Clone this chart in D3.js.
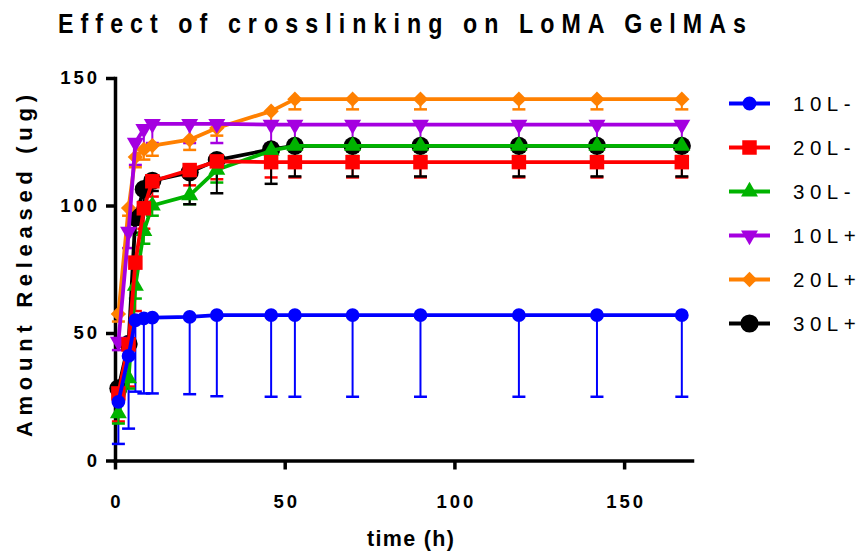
<!DOCTYPE html>
<html>
<head>
<meta charset="utf-8">
<script src="https://cdn.jsdelivr.net/npm/d3@7"></script>
<style>
  html, body { margin: 0; padding: 0; background: #fff; }
  svg { display: block; font-family: "Liberation Sans", Arial, sans-serif; }
</style>
</head>
<body>
<svg id="chart" width="860" height="554"></svg>
<script>
// Release time points (h)
const times = [1, 4, 6, 8.5, 11, 22, 30, 46, 53, 70, 90, 119, 142, 167];

// Mean amount released (ug) per formulation
const v10Lminus = [23, 41, 55, 55.7, 56, 56.3, 57, 57, 57, 57, 57, 57, 57, 57];
const v20Lminus = [26.3, 45.5, 77.6, 98.9, 109.5, 113.9, 117.3, 117, 117, 117, 117, 117, 117, 117];
const v30Lminus = [18.5, 32.2, 68.5, 90, 100, 104, 114, 121.5, 123.4, 123.4, 123.4, 123.4, 123.4, 123.4];
const v10Lplus  = [46.6, 89.7, 124.6, 130, 132, 132, 132, 131.7, 131.7, 131.7, 131.7, 131.7, 131.7, 131.7];
const v20Lplus  = [57.5, 99, 119, 122, 123.5, 125.8, 130.4, 137, 141.7, 141.7, 141.7, 141.7, 141.7, 141.7];
const v30Lplus  = [28.3, 45.7, 95.3, 106.4, 109.7, 113, 117.8, 122, 123.4, 123.4, 123.4, 123.4, 123.4, 123.4];

// Error (SD) shown below each mean
const e10Lminus = [16.5, 28.5, 28, 29.4, 29.7, 30.3, 31.8, 32, 32, 32, 32, 32, 32, 32];
const e20Lminus = [11, 16.5, 19, 8, 6, 6, 7, 6, 6, 6, 6, 6, 6, 6];
const e30Lminus = [4, 4, 5, 5, 4, 3.5, 5, 4, 4, 4, 4, 4, 4, 4];
const e10Lplus  = [3.3, 6.4, 8.7, 8, 7.5, 7.5, 7.5, 7.5, 7.5, 7.5, 7.5, 7.5, 7.5, 7.5];
const e20Lplus  = [3, 3, 4, 4, 4, 4, 3, 4, 4, 4, 4, 4, 4, 4];
const e30Lplus  = [4, 5, 6, 5, 4, 12.5, 13, 13.5, 12, 12, 12, 12, 12, 12];

const seriesNames = ["10L-", "20L-", "30L-", "10L+", "20L+", "30L+"];
const xTicks = [0, 50, 100, 150];
const yTicks = [0, 50, 100, 150];

const title = "Effect of crosslinking on LoMA GelMAs";
const xTitle = "time (h)";
const yTitle = "Amount Released (ug)";

const series = [
  { name: seriesNames[0], values: v10Lminus, errors: e10Lminus, color: "#0000ff", symbol: d3.symbolCircle,   size: 150, rotate: 0 },
  { name: seriesNames[1], values: v20Lminus, errors: e20Lminus, color: "#ff0000", symbol: d3.symbolSquare,   size: 210, rotate: 0 },
  { name: seriesNames[2], values: v30Lminus, errors: e30Lminus, color: "#00b300", symbol: d3.symbolTriangle, size: 125, rotate: 0 },
  { name: seriesNames[3], values: v10Lplus,  errors: e10Lplus,  color: "#a500e0", symbol: d3.symbolTriangle, size: 125, rotate: 180 },
  { name: seriesNames[4], values: v20Lplus,  errors: e20Lplus,  color: "#ff8000", symbol: d3.symbolDiamond2, size: 150, rotate: 0 },
  { name: seriesNames[5], values: v30Lplus,  errors: e30Lplus,  color: "#000000", symbol: d3.symbolCircle,   size: 260, rotate: 0 }
];

const svg = d3.select("#chart");
const x = d3.scaleLinear().domain([0, 170]).range([115, 692]);
const y = d3.scaleLinear().domain([0, 150]).range([460.5, 78]);

// Title: condensed bold glyphs, widely spaced
svg.append("text")
  .attr("transform", "translate(58,33) scale(0.86,1)")
  .attr("x", 0).attr("y", 0)
  .attr("textLength", 800).attr("lengthAdjust", "spacing")
  .style("font-size", "27px").style("font-weight", "bold")
  .text(title);

// Axes
const xAxis = svg.append("g").attr("transform", `translate(0,${y(0)})`)
  .call(d3.axisBottom(x).tickValues(xTicks).tickSize(9).tickSizeOuter(0).tickPadding(25));
const yAxis = svg.append("g").attr("transform", `translate(${x(0)},0)`)
  .call(d3.axisLeft(y).tickValues(yTicks).tickSize(9).tickSizeOuter(0).tickPadding(6));

[xAxis, yAxis].forEach(g => {
  g.select(".domain").attr("stroke", "#000").attr("stroke-width", 3.5).attr("stroke-linecap", "square");
  g.selectAll(".tick line").attr("stroke", "#000").attr("stroke-width", 3.5);
  g.selectAll(".tick text")
    .attr("fill", "#000")
    .style("font-family", "'Liberation Sans', Arial, sans-serif")
    .style("font-size", "18.5px").style("font-weight", "bold")
    .style("letter-spacing", "3px");
});
xAxis.selectAll(".tick text").attr("dx", "1.5px");

// Axis titles
svg.append("text")
  .attr("x", 367).attr("y", 546)
  .attr("textLength", 87).attr("lengthAdjust", "spacing")
  .style("font-size", "21.5px").style("font-weight", "bold")
  .text(xTitle);

svg.append("text")
  .attr("transform", "translate(32,437) rotate(-90)")
  .attr("x", 0).attr("y", 0)
  .attr("textLength", 342).attr("lengthAdjust", "spacing")
  .style("font-size", "22px").style("font-weight", "bold")
  .text(yTitle);

const plot = svg.append("g");

// Error bars (below the mean only)
series.forEach(s => {
  const g = plot.append("g");
  times.forEach((t, i) => {
    const cx = x(t), y0 = y(s.values[i]), y1 = y(s.values[i] - s.errors[i]);
    g.append("line").attr("x1", cx).attr("x2", cx).attr("y1", y0).attr("y2", y1)
      .attr("stroke", s.color).attr("stroke-width", 2);
    g.append("line").attr("x1", cx - 6.5).attr("x2", cx + 6.5).attr("y1", y1).attr("y2", y1)
      .attr("stroke", s.color).attr("stroke-width", 2.5);
  });
});

// Lines and markers, last series underneath
const line = d3.line().x((d, i) => x(times[i])).y(d => y(d));
series.slice().reverse().forEach(s => {
  const g = plot.append("g");
  g.append("path").datum(s.values)
    .attr("d", line).attr("fill", "none")
    .attr("stroke", s.color).attr("stroke-width", 3.8).attr("stroke-linejoin", "round");
  g.selectAll("path.mk").data(s.values).join("path").attr("class", "mk")
    .attr("d", d3.symbol().type(s.symbol).size(s.size))
    .attr("transform", (d, i) => `translate(${x(times[i])},${y(d)}) rotate(${s.rotate})`)
    .attr("fill", s.color);
});

// Legend
const legend = svg.append("g");
series.forEach((s, i) => {
  const ly = 103.5 + i * 44;
  legend.append("line").attr("x1", 729).attr("x2", 770).attr("y1", ly).attr("y2", ly)
    .attr("stroke", s.color).attr("stroke-width", 3.8);
  legend.append("path")
    .attr("d", d3.symbol().type(s.symbol).size(s.size)())
    .attr("transform", `translate(749.5,${ly}) rotate(${s.rotate})`)
    .attr("fill", s.color);
  legend.append("text").attr("x", 793).attr("y", ly + 7.5)
    .style("font-size", "20.5px").style("letter-spacing", "5.5px")
    .text(s.name);
});
</script>
</body>
</html>
